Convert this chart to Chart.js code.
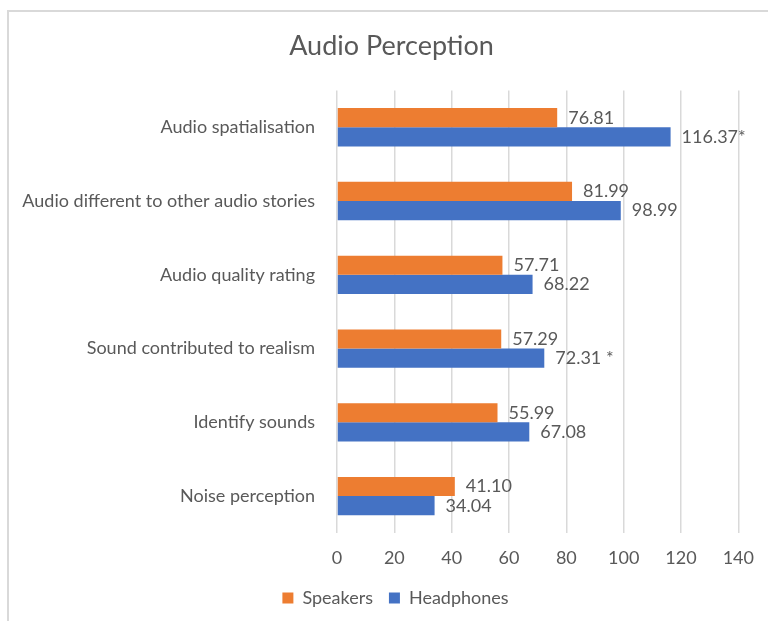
<!DOCTYPE html>
<html>
<head>
<meta charset="utf-8">
<script src="https://cdn.jsdelivr.net/npm/chart.js@4.4.0/dist/chart.umd.min.js"></script>
<style>
  html, body { margin: 0; padding: 0; background: #fff; }
  #wrap { position: relative; width: 768px; height: 621px; overflow: hidden; }
  #frame { position: absolute; left: 7px; top: 10px; width: 800px; height: 700px;
           border-left: 2px solid #d9d9d9; border-top: 2px solid #d9d9d9; pointer-events: none; }
  canvas { position: absolute; left: 0; top: 0; }
</style>
</head>
<body>
<div id="wrap">
  <canvas id="chart" width="768" height="621"></canvas>
  <div id="frame"></div>
</div>
<script>
(function(){
  const categories = [
    'Audio spatialisation',
    'Audio different to other audio stories',
    'Audio quality rating',
    'Sound contributed to realism',
    'Identify sounds',
    'Noise perception',
  ];

  const speakers = [76.81, 81.99, 57.71, 57.29, 55.99, 41.10];
  const headphones = [116.37, 98.99, 68.22, 72.31, 67.08, 34.04];

  // significance marks shown after the headphones values
  const headphoneMarks = ['*', '', '', ' *', '', ''];
  const speakerMarks = ['', '', '', '', '', ''];

  const xTicks = [0, 20, 40, 60, 80, 100, 120, 140];

  const fontFamily = 'Lato, "Open Sans", sans-serif';
  const textColor = '#595959';

  const valueLabels = {
    id: 'valueLabels',
    afterDatasetsDraw(chart) {
      const ctx = chart.ctx;
      ctx.save();
      ctx.font = '18px ' + fontFamily;
      ctx.fillStyle = textColor;
      ctx.textAlign = 'left';
      ctx.textBaseline = 'middle';
      chart.data.datasets.forEach((ds, i) => {
        const meta = chart.getDatasetMeta(i);
        meta.data.forEach((bar, j) => {
          const text = ds.data[j].toFixed(2) + ds.marks[j];
          ctx.fillText(text, bar.x + 11, bar.y);
        });
      });
      ctx.restore();
    }
  };

  // title and legend sit a bit right of the canvas centre in the original
  const shiftBoxes = {
    id: 'shiftBoxes',
    afterLayout(chart) {
      chart.titleBlock.left += 22;
      chart.titleBlock.right += 22;
      chart.legend.left += 26;
      chart.legend.right += 26;
    }
  };

  const data = {
    labels: categories,
    datasets: [
      {
        label: 'Speakers',
        data: speakers,
        marks: speakerMarks,
        backgroundColor: '#ED7D31',
      },
      {
        label: 'Headphones',
        data: headphones,
        marks: headphoneMarks,
        backgroundColor: '#4472C4',
      },
    ]
  };

  new Chart(document.getElementById('chart'), {
    type: 'bar',
    data: data,
    plugins: [valueLabels, shiftBoxes],
    options: {
      indexAxis: 'y',
      responsive: false,
      animation: false,
      devicePixelRatio: 1,
      categoryPercentage: 0.52,
      barPercentage: 1.0,
      layout: {
        padding: { left: 0, right: 29, top: 0, bottom: 4 }
      },
      scales: {
        x: {
          min: 0,
          max: 140,
          afterBuildTicks: (scale) => {
            scale.ticks = xTicks.map(v => ({ value: v }));
          },
          afterFit: (scale) => { scale.height = 40; },
          grid: { color: '#d9d9d9', lineWidth: 1.5, drawTicks: false },
          border: { display: false },
          ticks: {
            color: textColor,
            font: { family: fontFamily, size: 18 },
            padding: 14,
          },
        },
        y: {
          afterFit: (scale) => { scale.width = 337; },
          grid: { display: false, drawTicks: false },
          border: { display: false },
          ticks: {
            color: textColor,
            font: { family: fontFamily, size: 18 },
            padding: 22,
          },
        },
      },
      plugins: {
        title: {
          display: true,
          text: 'Audio Perception',
          color: textColor,
          font: { family: fontFamily, size: 27, weight: 'normal' },
          padding: { top: 30, bottom: 28 },
        },
        legend: {
          position: 'bottom',
          labels: {
            color: textColor,
            font: { family: fontFamily, size: 18 },
            boxWidth: 11,
            boxHeight: 11,
            padding: 16,
          },
        },
        tooltip: { enabled: false },
      },
    }
  });
})();
</script>
</body>
</html>
